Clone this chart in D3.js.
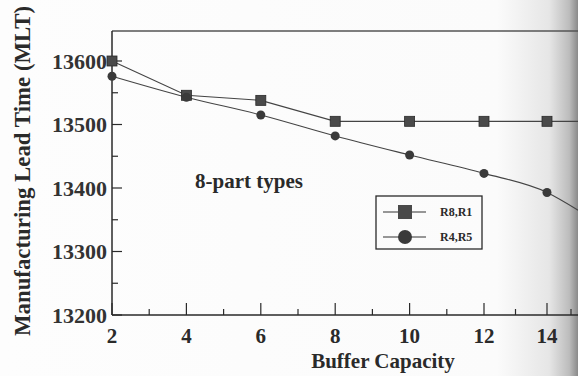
<!DOCTYPE html>
<html>
<head>
<meta charset="utf-8">
<script src="https://cdn.jsdelivr.net/npm/d3@7"></script>
<style>
  body { margin: 0; background: #fff; }
  svg { display: block; font-family: "Liberation Serif", "Times New Roman", serif; }
</style>
</head>
<body>
<div class="canvas"></div>
<script>
// data
const buffer = [2, 4, 6, 8, 10, 12, 14];
const r8r1 = [13600, 13546, 13538, 13505, 13505, 13505, 13505];
const r4r5 = [13576, 13543, 13515, 13482, 13452, 13423, 13393];
// where the lines run past the last marker, off the page edge
const tailX = 15.3;
const r8r1Tail = 13505;
const r4r5Tail = 13365;
const xTicks = [2, 4, 6, 8, 10, 12, 14];
const yTicks = [13200, 13300, 13400, 13500, 13600];
const seriesNames = ['R8,R1', 'R4,R5'];

const W = 578, H = 376;
const svg = d3.select('.canvas')
    .append('svg')
    .attr('width', W)
    .attr('height', H);

// scanned page curls toward the right edge
const grad = svg.append('defs').append('linearGradient')
    .attr('id', 'curl').attr('x1', 0).attr('x2', 1).attr('y1', 0).attr('y2', 0);
grad.append('stop').attr('offset', 0).attr('stop-color', '#fdfdfd');
grad.append('stop').attr('offset', 0.86).attr('stop-color', '#fbfbfb');
grad.append('stop').attr('offset', 0.95).attr('stop-color', '#e6e6e6');
grad.append('stop').attr('offset', 0.985).attr('stop-color', '#bcbcbc');
grad.append('stop').attr('offset', 1).attr('stop-color', '#8a8a8a');
svg.append('rect').attr('width', W).attr('height', H).attr('fill', 'url(#curl)');

const plotLeft = 112, plotTop = 31, plotBottom = 315;
const ink = '#2a2a2a';

// page curvature squeezes the right end of the axis
const x = d3.scaleLinear()
    .domain([2, 12, 14, 15])
    .range([plotLeft, 484, 547, 571]);

const y = d3.scaleLinear()
    .domain([13200, 13600])
    .range([plotBottom, 61]);

// frame: top, left, bottom (right side runs off the page)
svg.append('line')
    .attr('x1', plotLeft).attr('x2', W).attr('y1', plotTop).attr('y2', plotTop)
    .attr('stroke', '#555').attr('stroke-width', 1.3);
svg.append('line')
    .attr('x1', plotLeft).attr('x2', plotLeft).attr('y1', plotTop).attr('y2', plotBottom)
    .attr('stroke', ink).attr('stroke-width', 1.5);
svg.append('line')
    .attr('x1', plotLeft).attr('x2', W).attr('y1', plotBottom).attr('y2', plotBottom)
    .attr('stroke', ink).attr('stroke-width', 1.5);

// x ticks (inward), major at evens, minor at odds
const xMinor = d3.range(3, 16, 2);
svg.selectAll('.xmaj')
    .data(xTicks)
    .enter().append('line')
    .attr('x1', d => x(d)).attr('x2', d => x(d))
    .attr('y1', plotBottom).attr('y2', plotBottom - 12)
    .attr('stroke', ink).attr('stroke-width', 1.2);
svg.selectAll('.xmin')
    .data(xMinor)
    .enter().append('line')
    .attr('x1', d => x(d)).attr('x2', d => x(d))
    .attr('y1', plotBottom).attr('y2', plotBottom - 6)
    .attr('stroke', ink).attr('stroke-width', 1.2);
svg.selectAll('.xlab')
    .data(xTicks)
    .enter().append('text')
    .attr('x', d => x(d))
    .attr('y', 343)
    .attr('text-anchor', 'middle')
    .attr('font-size', 21)
    .attr('font-weight', 'bold')
    .attr('fill', ink)
    .text(d => d);

// y ticks (inward), major every 100, minor every 50
const yMinor = [13250, 13350, 13450, 13550];
svg.selectAll('.ymaj')
    .data(yTicks)
    .enter().append('line')
    .attr('x1', plotLeft).attr('x2', plotLeft + 10)
    .attr('y1', d => y(d)).attr('y2', d => y(d))
    .attr('stroke', ink).attr('stroke-width', 1.2);
svg.selectAll('.ymin')
    .data(yMinor)
    .enter().append('line')
    .attr('x1', plotLeft).attr('x2', plotLeft + 6)
    .attr('y1', d => y(d)).attr('y2', d => y(d))
    .attr('stroke', ink).attr('stroke-width', 1.2);
svg.selectAll('.ylab')
    .data(yTicks)
    .enter().append('text')
    .attr('x', 107)
    .attr('y', d => y(d) + 7.5)
    .attr('text-anchor', 'end')
    .attr('font-size', 22)
    .attr('font-weight', 'bold')
    .attr('fill', '#333')
    .text(d => d);

// axis titles
svg.append('text')
    .attr('x', 383).attr('y', 368)
    .attr('text-anchor', 'middle')
    .attr('font-size', 21)
    .attr('font-weight', 'bold')
    .attr('fill', ink)
    .text('Buffer Capacity');
svg.append('text')
    .attr('transform', 'translate(30,171) rotate(-90)')
    .attr('text-anchor', 'middle')
    .attr('font-size', 23)
    .attr('font-weight', 'bold')
    .attr('fill', ink)
    .attr('textLength', 330)
    .attr('lengthAdjust', 'spacingAndGlyphs')
    .text('Manufacturing Lead Time (MLT)');

svg.append('text')
    .attr('x', 195).attr('y', 188)
    .attr('font-size', 21)
    .attr('font-weight', 'bold')
    .attr('fill', ink)
    .text('8-part types');

// lines
const sq = buffer.map((b, i) => ({ x: b, y: r8r1[i] }));
const ci = buffer.map((b, i) => ({ x: b, y: r4r5[i] }));
const line = d3.line().x(d => x(d.x)).y(d => y(d.y));
const smooth = d3.line().x(d => x(d.x)).y(d => y(d.y)).curve(d3.curveMonotoneX);

svg.append('path')
    .attr('d', line(sq.concat([{ x: tailX, y: r8r1Tail }])))
    .attr('fill', 'none').attr('stroke', '#444').attr('stroke-width', 1.1);
svg.append('path')
    .attr('d', smooth(ci.concat([{ x: tailX, y: r4r5Tail }])))
    .attr('fill', 'none').attr('stroke', '#444').attr('stroke-width', 1.1);

// markers
svg.selectAll('.sq')
    .data(sq)
    .enter().append('rect')
    .attr('x', d => x(d.x) - 5)
    .attr('y', d => y(d.y) - 5)
    .attr('width', 10).attr('height', 10)
    .attr('fill', '#4a4a4a').attr('stroke', '#2a2a2a').attr('stroke-width', 0.8);
svg.selectAll('.ci')
    .data(ci)
    .enter().append('circle')
    .attr('cx', d => x(d.x))
    .attr('cy', d => y(d.y))
    .attr('r', 4.5)
    .attr('fill', '#3a3a3a');

// legend
const lg = svg.append('g').attr('transform', 'translate(376,196)');
lg.append('rect')
    .attr('width', 106).attr('height', 53)
    .attr('fill', 'none').attr('stroke', ink).attr('stroke-width', 1.3);
seriesNames.forEach((name, i) => {
    const ry = 16 + i * 25;
    lg.append('line')
        .attr('x1', 7).attr('x2', 50).attr('y1', ry).attr('y2', ry)
        .attr('stroke', '#333').attr('stroke-width', 1.2);
    if (i === 0) {
        lg.append('rect')
            .attr('x', 22).attr('y', ry - 7)
            .attr('width', 14).attr('height', 14)
            .attr('fill', '#4a4a4a');
    } else {
        lg.append('circle')
            .attr('cx', 29).attr('cy', ry).attr('r', 7)
            .attr('fill', '#3a3a3a');
    }
    lg.append('text')
        .attr('x', 64).attr('y', ry + 4)
        .attr('font-size', 12)
        .attr('font-weight', 'bold')
        .attr('fill', ink)
        .text(name);
});
</script>
</body>
</html>
